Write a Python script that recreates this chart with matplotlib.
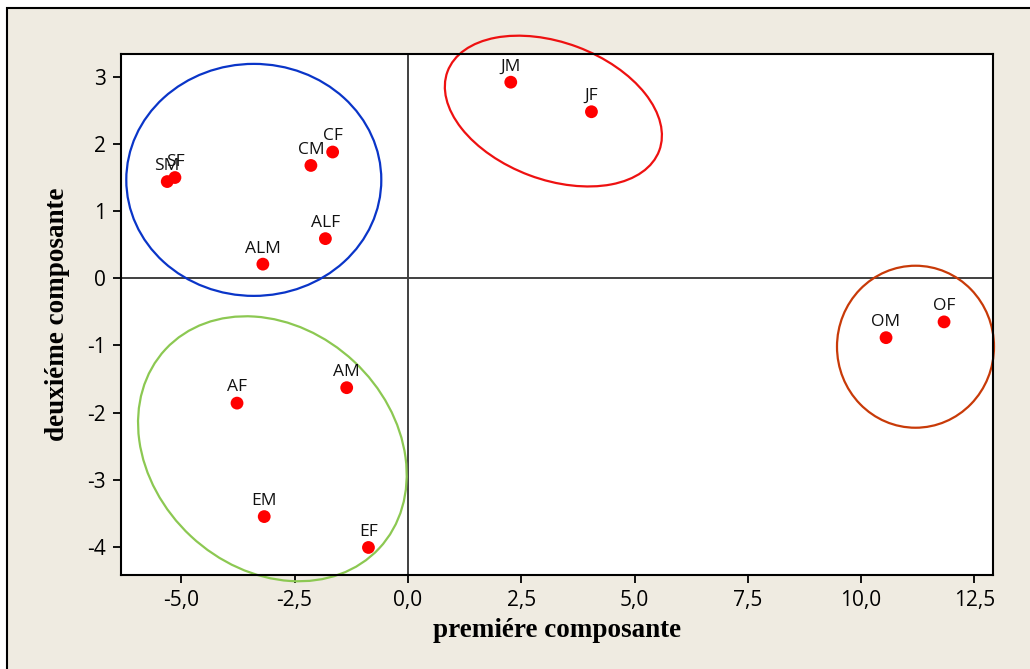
import matplotlib
matplotlib.use('Agg')
import matplotlib.pyplot as plt
from matplotlib.patches import Ellipse, Rectangle
from matplotlib import transforms

# sample scores on the first two components
labels = ['SM', 'SF', 'CM', 'CF', 'ALF', 'ALM', 'AF', 'AM', 'EM', 'EF', 'JM', 'JF', 'OM', 'OF']
comp1 = [-5.31, -5.14, -2.14, -1.66, -1.82, -3.20, -3.77, -1.35, -3.17, -0.87, 2.27, 4.05, 10.55, 11.83]
comp2 = [1.44, 1.50, 1.68, 1.88, 0.59, 0.21, -1.86, -1.63, -3.55, -4.01, 2.92, 2.48, -0.885, -0.65]

xticks = [-5.0, -2.5, 0.0, 2.5, 5.0, 7.5, 10.0, 12.5]
xtick_labels = ['-5,0', '-2,5', '0,0', '2,5', '5,0', '7,5', '10,0', '12,5']
yticks = [-4, -3, -2, -1, 0, 1, 2, 3]
ytick_labels = ['-4', '-3', '-2', '-1', '0', '1', '2', '3']

# groups: centre (data), width/height in pixels, angle, colour
groups = [
    ((-3.40, 1.465), 255, 232, 0, '#0a35c8'),
    ((-2.99, -2.54), 292, 239, -43, '#8cc852'),
    ((3.21, 2.49), 226, 137, -20.5, '#ee1111'),
    ((11.20, -1.02), 157, 162, 0, '#c83a08'),
]

bg = '#efebe1'
fig = plt.figure(figsize=(10.3, 6.69), dpi=100)
fig.patch.set_facecolor('white')
fig.patches.append(Rectangle((7 / 1030, -0.05), 1.2, (669 - 8) / 669 + 0.05,
                             transform=fig.transFigure, facecolor=bg,
                             edgecolor='black', linewidth=1.5, zorder=-10))

ax = fig.add_axes([121 / 1030, 1 - 575 / 669, 872 / 1030, 521 / 669])
ax.set_facecolor('white')
ax.set_xlim(-6.33, 12.91)
ax.set_ylim(-4.42, 3.34)

ax.axhline(0, color='#404040', linewidth=1.4, zorder=1)
ax.axvline(0, color='#404040', linewidth=1.4, zorder=1)

ax.scatter(comp1, comp2, s=85, color='#ff0000', edgecolors='none', zorder=3)
for lab, x, y in zip(labels, comp1, comp2):
    ax.annotate(lab, (x, y), xytext=(0, 5.5), textcoords='offset points',
                ha='center', va='bottom', fontsize=12.5, family='Open Sans',
                color='#111111', zorder=4)

for (cx, cy), w, h, ang, col in groups:
    trans = fig.dpi_scale_trans + transforms.ScaledTranslation(cx, cy, ax.transData)
    e = Ellipse((0, 0), w / 100, h / 100, angle=ang, transform=trans,
                fill=False, edgecolor=col, linewidth=1.6, clip_on=False, zorder=2)
    ax.add_patch(e)

ax.set_xticks(xticks)
ax.set_xticklabels(xtick_labels)
ax.set_yticks(yticks)
ax.set_yticklabels(ytick_labels)
ax.tick_params(direction='out', length=6, width=1.3, labelsize=15, pad=5)
for t in ax.get_xticklabels() + ax.get_yticklabels():
    t.set_family('Open Sans')

for s in ax.spines.values():
    s.set_linewidth(1.5)

ax.set_xlabel('premiére composante', family='Liberation Serif', fontweight='bold',
              fontsize=19.5, labelpad=5)
ax.set_ylabel('deuxiéme composante', family='Liberation Serif', fontweight='bold',
              fontsize=19.5, labelpad=12)

fig.savefig('out.png', dpi=100)
